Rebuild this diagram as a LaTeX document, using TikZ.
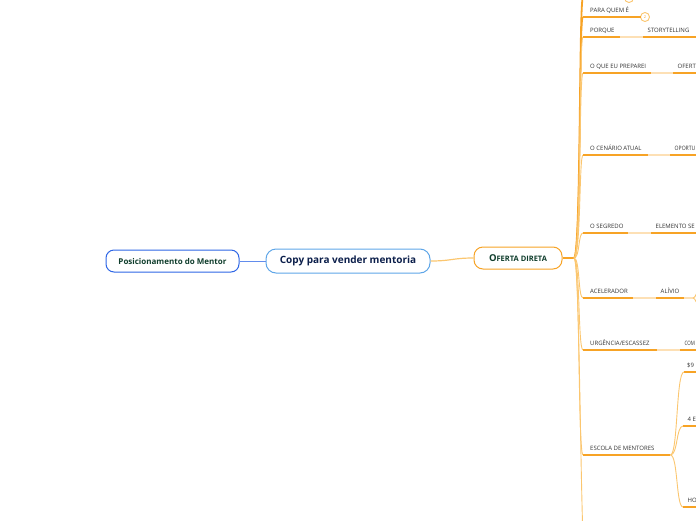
\documentclass[tikz,border=0pt]{standalone}
\usepackage{fontspec}
\setmainfont{Open Sans}
\definecolor{orng}{HTML}{F7A325}
\definecolor{pale}{HTML}{FDE0B5}
\definecolor{trunk}{HTML}{FBC66F}
\definecolor{blueb}{HTML}{2E66E6}
\definecolor{lblue}{HTML}{5FA6E8}
\definecolor{navy}{HTML}{0C1F4B}
\definecolor{dgreen}{HTML}{0F3D2C}
\definecolor{lbltext}{HTML}{333333}
\begin{document}
\begin{tikzpicture}[x=1pt,y=-1pt,
  rootbox/.style={draw=blueb, line width=1pt, rounded corners=8pt, minimum width=133pt, minimum height=22pt, fill=white, inner sep=0pt, font=\bfseries\fontsize{8}{9}\selectfont, text=dgreen},
  mainbox/.style={draw=lblue, line width=1pt, rounded corners=10pt, minimum width=164pt, minimum height=24pt, fill=white, inner sep=0pt, font=\bfseries\fontsize{10}{12}\selectfont, text=navy},
  topicbox/.style={draw=orng, line width=1pt, rounded corners=9pt, minimum width=88pt, minimum height=22pt, fill=white, inner sep=0pt, font=\bfseries, text=dgreen},
  lbl/.style={anchor=south west, inner xsep=7pt, inner ysep=4.5pt, text depth=0pt, font=\fontsize{6}{7}\selectfont, text=lbltext},
  kid/.style={lbl, inner xsep=4.5pt},
  uline/.style={orng, line width=1.5pt},
  link/.style={pale, line width=1.5pt},
  branch/.style={trunk, line width=0.9pt},
  numc/.style={circle, draw=trunk, line width=0.9pt, fill=white, minimum size=9pt, inner sep=0pt, font=\fontsize{4}{4}\selectfont, text=orng}
]
\useasboundingbox (0,0) rectangle (696,520);
\clip (0,0) rectangle (696,520);

% main nodes
\node[rootbox] (pos) at (172.5,261) {Posicionamento do Mentor};
\node[mainbox] (copy) at (348,261) {Copy para vender mentoria};
\node[topicbox] (of) at (518,258) {{\fontsize{9.5}{10}\selectfont O}{\fontsize{7.5}{9}\selectfont FERTA DIRETA}};
\coordinate (hub) at (574,258);

\draw[blueb!75, line width=1pt] (pos.east) -- (copy.west);
\draw[trunk, line width=1.2pt] (copy.east) .. controls (452,261) and (452,258) .. (of.west);
\draw[orng, line width=1.3pt] (of.east) -- (hub);

% branch labels
\node[lbl] (pq)   at (583,17)  {\makebox[43pt][l]{PARA QUEM É}};
\node[lbl] (por)  at (583,37)  {\makebox[23pt][l]{PORQUE}};
\node[lbl] (prep) at (583,73)  {\makebox[54pt][l]{O QUE EU PREPAREI}};
\node[lbl] (cen)  at (583,155) {\makebox[51pt][l]{O CENÁRIO ATUAL}};
\node[lbl] (seg)  at (583,233) {\makebox[31pt][l]{O SEGREDO}};
\node[lbl] (acel) at (583,298) {\makebox[36pt][l]{ACELERADOR}};
\node[lbl] (urg)  at (583,350) {\makebox[60pt][l]{URGÊNCIA/ESCASSEZ}};
\node[lbl] (esc)  at (583,455) {\makebox[73pt][l]{ESCOLA DE MENTORES}};

% children
\node[kid] (story)  at (643,37)  {\makebox[51pt][l]{STORYTELLING}};
\node[kid] (ofert)  at (673,73)  {\makebox[30pt][l]{OFERT}};
\node[kid] (oport)  at (670,155) {\makebox[30pt][l]{\scalebox{0.85}[1]{OPORTU}}};
\node[kid] (elem)   at (651,233) {\makebox[50pt][l]{ELEMENTO SE}};
\node[kid] (alivio) at (656,298) {\makebox[19pt][l]{ALÍVIO}};
\node[kid] (com)    at (680,350) {\makebox[25pt][l]{\scalebox{0.75}[1]{COM}}};
\node[kid, inner xsep=3pt] (dn)  at (684,372) {\makebox[25pt][l]{\$9}};
\node[kid] (e4)     at (683,426) {\makebox[25pt][l]{4 E}};
\node[kid] (ho)     at (683,507) {\makebox[25pt][l]{HO}};

% number circles
\node[numc] (c0) at (629,-2) {};
\node[numc] (c1) at (645,17) {2};
\coordinate (t0) at (583,-3);
\coordinate (bt) at (585,580);
\coordinate (alv) at (693,298);
\coordinate (alvu) at (700,289);
\coordinate (alvd) at (700,307);

% trunk curves
\draw[orng, line width=1.8pt] (hub) .. controls (581,258) and (579,-3) .. (t0);
\draw[orng, line width=1.3pt] (hub) .. controls (581,258) and (579,17) .. (pq.south west);
\draw[branch] (hub) .. controls (581,258) and (579,37) .. (por.south west);
\draw[branch] (hub) .. controls (581,258) and (579,73) .. (prep.south west);
\draw[branch] (hub) .. controls (581,258) and (579,155) .. (cen.south west);
\draw[branch] (hub) .. controls (580,258) and (578,233) .. (seg.south west);
\draw[branch] (hub) .. controls (580,258) and (578,298) .. (acel.south west);
\draw[branch] (hub) .. controls (580,258) and (578,350) .. (urg.south west);
\draw[branch] (hub) .. controls (580,258) and (578,455) .. (esc.south west);
\draw[branch] (hub) .. controls (580,258) and (580,520) .. (bt);

% underlines
\foreach \n in {pq,por,prep,cen,seg,acel,urg,esc,story,ofert,oport,elem,alivio,com,dn,e4,ho}
  \draw[uline] (\n.south west) -- (\n.south east);
\draw[orng, line width=1.5pt] (t0) -- (c0);
\draw[orng, line width=1.3pt] (pq.south east) -- (c1);

% links to children
\draw[link] (por.south east) -- (story.south west);
\draw[link] (prep.south east) -- (ofert.south west);
\draw[link] (cen.south east) -- (oport.south west);
\draw[link] (seg.south east) -- (elem.south west);
\draw[link] (acel.south east) -- (alivio.south west);
\draw[link] (urg.south east) -- (com.south west);
\draw[link] (alivio.south east) -- (alv);
\draw[branch] (alv) .. controls (696,298) and (696,291) .. (alvu);
\draw[branch] (alv) .. controls (696,298) and (696,305) .. (alvd);
\draw[branch] (esc.south east) .. controls (678,455) and (676,372) .. (dn.south west);
\draw[branch] (esc.south east) .. controls (678,455) and (676,426) .. (e4.south west);
\draw[branch] (esc.south east) .. controls (678,455) and (676,507) .. (ho.south west);
\end{tikzpicture}
\end{document}
